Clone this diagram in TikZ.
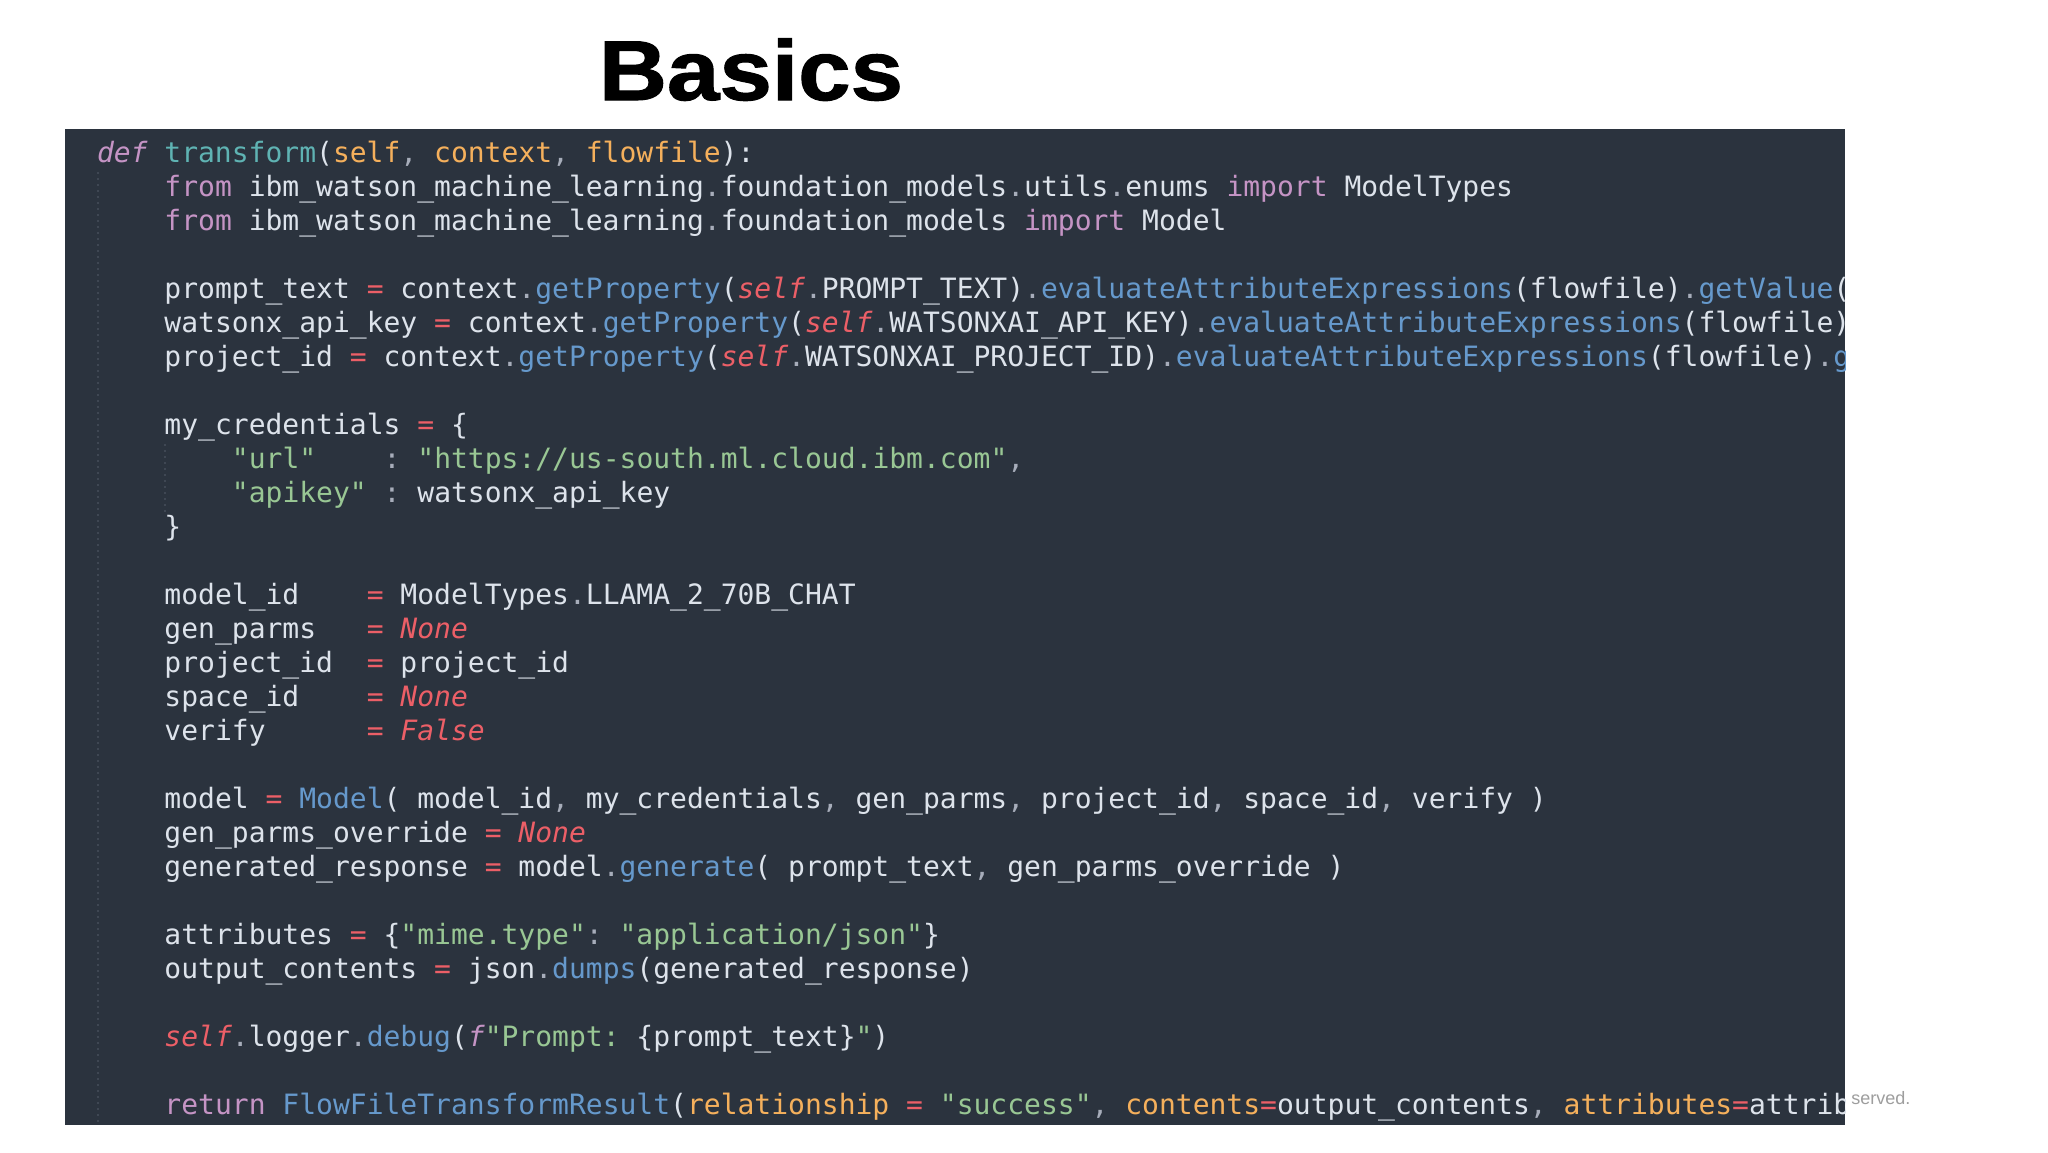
\documentclass[tikz,border=0pt]{standalone}
\usepackage{fontspec}
\setmonofont{DejaVu Sans Mono}[ItalicFont={DejaVu Sans Mono Oblique},BoldFont={DejaVu Sans Mono Bold}]
\newfontfamily\titlefont{Liberation Sans Bold}[FakeBold=1.2]
\newfontfamily\notefont{Liberation Sans}
\definecolor{codebg}{HTML}{2B333E}
\definecolor{fg}{HTML}{DDE3EB}
\definecolor{ckw}{HTML}{C594C5}
\definecolor{cfn}{HTML}{5FB3B3}
\definecolor{cpar}{HTML}{F5B05C}
\definecolor{cop}{HTML}{EC5F67}
\definecolor{cme}{HTML}{6699CC}
\definecolor{cstr}{HTML}{99C794}
\definecolor{cpu}{HTML}{A7ADBA}
\definecolor{cguide}{HTML}{3F4753}
\definecolor{cnote}{HTML}{9E9E9E}
\newcommand\hlkw[1]{\textcolor{ckw}{#1}}
\newcommand\hlkwi[1]{\textcolor{ckw}{\itshape #1}}
\newcommand\hlfn[1]{\textcolor{cfn}{#1}}
\newcommand\hlpar[1]{\textcolor{cpar}{#1}}
\newcommand\hlop[1]{\textcolor{cop}{#1}}
\newcommand\hlme[1]{\textcolor{cme}{#1}}
\newcommand\hlself{\textcolor{cop}{\itshape self}}
\newcommand\hlcon[1]{\textcolor{cop}{\itshape #1}}
\newcommand\hlstr[1]{\textcolor{cstr}{#1}}
\newcommand\hlpu[1]{\textcolor{cpu}{#1}}
\newcommand\codeat[4]{\node[codeline] (#1) at ({97+16.87*#3},{162+34*#2}) {#4};}
\begin{document}
\begin{tikzpicture}[x=0.5pt,y=-0.5pt,
  codeline/.style={anchor=base west,inner sep=0pt,outer sep=0pt,text=fg,
    font=\ttfamily\fontsize{14pt}{17pt}\selectfont\frenchspacing},
  guide/.style={cguide,line width=1pt,dotted}]
\useasboundingbox[fill=white] (0,0) rectangle (2048,1152);
\node[anchor=base,inner sep=0pt,xscale=1.11,font=\titlefont\fontsize{42.5pt}{50pt}\selectfont] (title) at (751,100) {Basics};
\node[anchor=base west,inner sep=0pt,text=cnote,font=\notefont\fontsize{9pt}{10pt}\selectfont] (note) at (1851,1104) {served.};
\fill[codebg] (65,129) rectangle (1845,1125);
\coordinate (g1a) at (98,172);
\coordinate (g1b) at (98,1125);
\coordinate (g2a) at (165,444);
\coordinate (g2b) at (165,512);
\draw[guide] (g1a) -- (g1b);
\draw[guide] (g2a) -- (g2b);
\begin{scope}
\clip (65,129) rectangle (1845,1125);
\codeat{l0}{0}{0}{\hlkwi{def} \hlfn{transform}(\hlpar{self}\hlpu{,} \hlpar{context}\hlpu{,} \hlpar{flowfile}):}
\codeat{l1}{1}{4}{\hlkw{from} ibm\_watson\_machine\_learning\hlpu{.}foundation\_models\hlpu{.}utils\hlpu{.}enums \hlkw{import} ModelTypes}
\codeat{l2}{2}{4}{\hlkw{from} ibm\_watson\_machine\_learning\hlpu{.}foundation\_models \hlkw{import} Model}
\codeat{l4}{4}{4}{prompt\_text \hlop{=} context\hlpu{.}\hlme{getProperty}(\hlself\hlpu{.}PROMPT\_TEXT)\hlpu{.}\hlme{evaluateAttributeExpressions}(flowfile)\hlpu{.}\hlme{getValue}(}
\codeat{l5}{5}{4}{watsonx\_api\_key \hlop{=} context\hlpu{.}\hlme{getProperty}(\hlself\hlpu{.}WATSONXAI\_API\_KEY)\hlpu{.}\hlme{evaluateAttributeExpressions}(flowfile)}
\codeat{l6}{6}{4}{project\_id \hlop{=} context\hlpu{.}\hlme{getProperty}(\hlself\hlpu{.}WATSONXAI\_PROJECT\_ID)\hlpu{.}\hlme{evaluateAttributeExpressions}(flowfile)\hlpu{.}\hlme{g}}
\codeat{l8}{8}{4}{my\_credentials \hlop{=} \{}
\codeat{l9}{9}{8}{\hlstr{"url"}\ \ \ \ \hlpu{:} \hlstr{"https://us-south.ml.cloud.ibm.com"}\hlpu{,}}
\codeat{l10}{10}{8}{\hlstr{"apikey"} \hlpu{:} watsonx\_api\_key}
\codeat{l11}{11}{4}{\}}
\codeat{l13}{13}{4}{model\_id\ \ \ \ \hlop{=} ModelTypes\hlpu{.}LLAMA\_2\_70B\_CHAT}
\codeat{l14}{14}{4}{gen\_parms\ \ \ \hlop{=} \hlcon{None}}
\codeat{l15}{15}{4}{project\_id\ \ \hlop{=} project\_id}
\codeat{l16}{16}{4}{space\_id\ \ \ \ \hlop{=} \hlcon{None}}
\codeat{l17}{17}{4}{verify\ \ \ \ \ \ \hlop{=} \hlcon{False}}
\codeat{l19}{19}{4}{model \hlop{=} \hlme{Model}( model\_id\hlpu{,} my\_credentials\hlpu{,} gen\_parms\hlpu{,} project\_id\hlpu{,} space\_id\hlpu{,} verify )}
\codeat{l20}{20}{4}{gen\_parms\_override \hlop{=} \hlcon{None}}
\codeat{l21}{21}{4}{generated\_response \hlop{=} model\hlpu{.}\hlme{generate}( prompt\_text\hlpu{,} gen\_parms\_override )}
\codeat{l23}{23}{4}{attributes \hlop{=} \{\hlstr{"mime.type"}\hlpu{:} \hlstr{"application/json"}\}}
\codeat{l24}{24}{4}{output\_contents \hlop{=} json\hlpu{.}\hlme{dumps}(generated\_response)}
\codeat{l26}{26}{4}{\hlself\hlpu{.}logger\hlpu{.}\hlme{debug}(\hlkwi{f}\hlstr{"Prompt: }\{prompt\_text\}\hlstr{"})}
\codeat{l28}{28}{4}{\hlkw{return} \hlme{FlowFileTransformResult}(\hlpar{relationship} \hlop{=} \hlstr{"success"}\hlpu{,} \hlpar{contents}\hlop{=}output\_contents\hlpu{,} \hlpar{attributes}\hlop{=}attrib}
\end{scope}
\end{tikzpicture}
\end{document}
